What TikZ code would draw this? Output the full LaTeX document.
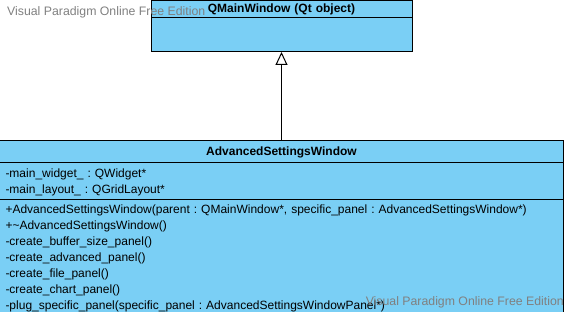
\documentclass[tikz,border=0pt]{standalone}
\usepackage{fontspec}
\setmainfont{Liberation Sans}
\usetikzlibrary{arrows.meta,positioning,shapes.multipart}

\definecolor{classblue}{RGB}{122,207,245}
\definecolor{wmgray}{RGB}{128,128,128}

\begin{document}
\frenchspacing
\begin{tikzpicture}[x=1pt,y=1pt,font=\fontsize{12}{16}\selectfont,
	umlclass/.style={rectangle split,draw,fill=classblue,line width=1pt,
		text width=#1,align=left,inner xsep=6pt,inner ysep=0pt},
	inherit/.style={-{Triangle[open,width=12pt,length=13pt]},line width=1pt},
	watermark/.style={text=wmgray,inner sep=0pt,font=\fontsize{12.3}{16}\selectfont}]

\useasboundingbox (0,0) rectangle (568,311);

\node[umlclass=249pt,rectangle split parts=2,anchor=north] (qmainwindow) at (281.5,311)
	{\rule[-5pt]{0pt}{16.5pt}\hfill\textbf{QMainWindow (Qt object)}\hfill\null
	\nodepart{second}\rule{0pt}{32.5pt}};

\node[umlclass=552pt,rectangle split parts=3] (settings) [below=88pt of qmainwindow]
	{\rule[-6pt]{0pt}{21pt}\hfill\textbf{AdvancedSettingsWindow}\hfill\null
	\nodepart{second}\rule{0pt}{15pt}-main\_widget\_ : QWidget*\\
	\rule[-5pt]{0pt}{0pt}-main\_layout\_ : QGridLayout*
	\nodepart{third}\rule{0pt}{13.7pt}+AdvancedSettingsWindow(parent : QMainWindow*, specific\_panel : AdvancedSettingsWindow*)\\
	+\textasciitilde AdvancedSettingsWindow()\\
	-create\_buffer\_size\_panel()\\
	-create\_advanced\_panel()\\
	-create\_file\_panel()\\
	-create\_chart\_panel()\\
	\rule[-5pt]{0pt}{0pt}-plug\_specific\_panel(specific\_panel : AdvancedSettingsWindowPanel*)};

\path (settings) edge[inherit] (qmainwindow);

\node[watermark,anchor=base west] (wmtop) at (7,295) {Visual Paradigm Online Free Edition};
\node[watermark,anchor=base east] (wmbottom) at (564,6) {Visual Paradigm Online Free Edition};
\end{tikzpicture}
\end{document}
